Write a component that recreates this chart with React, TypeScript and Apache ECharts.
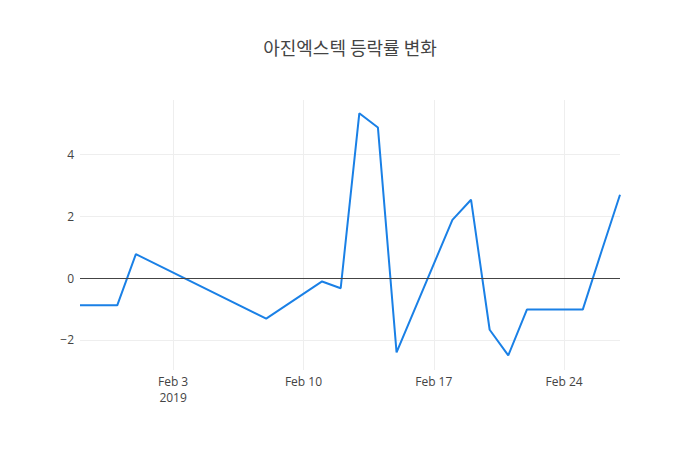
import { useEffect, useRef } from "react";
import * as echarts from "echarts";

const titleText = "아진엑스텍 등락률 변화";

const dates = [
  "2019-01-29", "2019-01-31", "2019-02-01", "2019-02-08", "2019-02-11",
  "2019-02-12", "2019-02-13", "2019-02-14", "2019-02-15", "2019-02-18",
  "2019-02-19", "2019-02-20", "2019-02-21", "2019-02-22", "2019-02-25",
  "2019-02-26", "2019-02-27",
];
const changes = [
  -0.88, -0.88, 0.77, -1.31, -0.11,
  -0.33, 5.32, 4.86, -2.4, 1.88,
  2.53, -1.67, -2.5, -1.02, -1.02,
  0.85, 2.69,
];
const xTicks = ["2019-02-03", "2019-02-10", "2019-02-17", "2019-02-24"];
const yTicks = [-2, 0, 2, 4];

const months = ["Jan", "Feb", "Mar", "Apr", "May", "Jun", "Jul", "Aug", "Sep", "Oct", "Nov", "Dec"];

function toTime(d: string) {
  const [y, m, day] = d.split("-").map(Number);
  return Date.UTC(y, m - 1, day);
}

export default function App() {
  const chartRef = useRef<HTMLDivElement>(null);

  useEffect(() => {
    if (!chartRef.current) return;
    const chart = echarts.init(chartRef.current, undefined, { renderer: "svg" });
    const font = '"Open Sans", "Noto Sans", sans-serif';
    const tickTimes = xTicks.map(toTime);

    const option = {
      animation: false,
      backgroundColor: "#fff",
      title: {
        text: titleText,
        left: "center",
        top: 33,
        textStyle: {
          color: "#444",
          fontSize: 18,
          fontWeight: "normal",
          fontFamily: '"Noto Sans CJK KR", "Open Sans", sans-serif',
        },
      },
      grid: { left: 80, right: 80, top: 100, bottom: 80 },
      xAxis: {
        type: "value",
        min: toTime("2019-01-29"),
        max: toTime("2019-02-27"),
        axisLine: { show: false },
        axisTick: { show: false, customValues: tickTimes },
        axisLabel: {
          customValues: tickTimes,
          color: "#444",
          fontSize: 12,
          fontFamily: font,
          margin: 3,
          lineHeight: 16,
          formatter: (v: number) => {
            const d = new Date(v);
            const s = months[d.getUTCMonth()] + " " + d.getUTCDate();
            return v === tickTimes[0] ? s + "\n" + d.getUTCFullYear() : s;
          },
        },
        splitLine: { show: true, lineStyle: { color: "#eee", width: 1 } },
      },
      yAxis: {
        type: "value",
        min: -2.97,
        max: 5.75,
        axisLine: { show: false },
        axisTick: { show: false, customValues: yTicks },
        axisLabel: {
          customValues: yTicks,
          color: "#444",
          fontSize: 12,
          fontFamily: font,
          margin: 6,
          formatter: (v: number) => (v < 0 ? "\u2212" + Math.abs(v) : String(v)),
        },
        splitLine: { show: true, lineStyle: { color: "#eee", width: 1 } },
      },
      series: [
        {
          type: "line",
          data: dates.map((d, i) => [toTime(d), changes[i]]),
          showSymbol: false,
          symbol: "none",
          lineStyle: { color: "#1a80e6", width: 2 },
          markLine: {
            silent: true,
            symbol: "none",
            label: { show: false },
            lineStyle: { color: "#444", width: 1, type: "solid" },
            data: [{ yAxis: 0 }],
          },
          z: 3,
        },
      ],
    };

    chart.setOption(option);
    return () => chart.dispose();
  }, []);

  return (
    <div
      ref={chartRef}
      style={{ position: "absolute", left: 0, top: 0, width: 700, height: 450 }}
    />
  );
}
